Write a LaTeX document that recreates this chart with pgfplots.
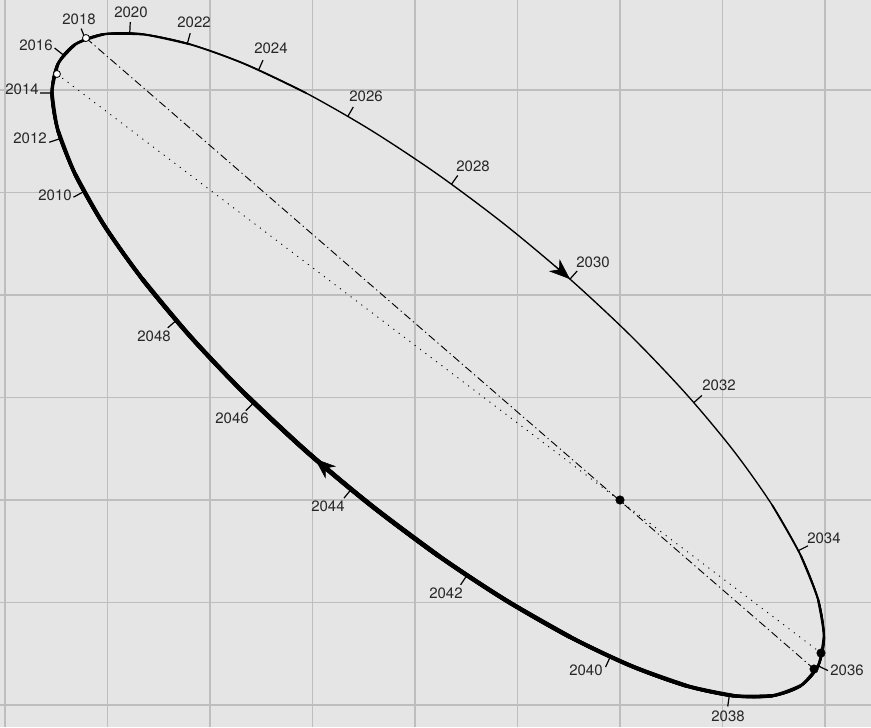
\documentclass[border=0pt]{standalone}
\usepackage{fontspec}
\setmainfont{TeX Gyre Heros}
\usepackage{pgfplots}
\usepackage{pgfplotstable}
\pgfplotsset{compat=1.18}
\usetikzlibrary{arrows.meta}

\definecolor{bggray}{RGB}{229,229,229}
\definecolor{gridgray}{RGB}{190,190,190}
\definecolor{labelgray}{RGB}{40,40,40}

% projected orbit, sampled every 10 degrees of the eccentric angle t
\pgfplotstableread{
t X Y
-40 1.109 0.479
-30 1.486 -0.052
-20 1.763 -0.541
-10 1.933 -0.973
0 1.990 -1.336
10 1.933 -1.618
20 1.763 -1.812
30 1.486 -1.910
40 1.109 -1.910
50 0.645 -1.812
60 0.107 -1.618
70 -0.488 -1.336
80 -1.122 -0.973
90 -1.776 -0.541
100 -2.429 -0.052
110 -3.064 0.479
120 -3.659 1.035
130 -4.196 1.600
140 -4.660 2.155
150 -5.037 2.686
160 -5.314 3.175
170 -5.484 3.607
180 -5.542 3.971
190 -5.484 4.253
200 -5.314 4.446
210 -5.037 4.544
220 -4.660 4.544
230 -4.196 4.446
240 -3.659 4.253
250 -3.064 3.971
260 -2.429 3.607
270 -1.776 3.175
280 -1.122 2.686
290 -0.488 2.155
300 0.107 1.600
310 0.645 1.035
320 1.109 0.479
330 1.486 -0.052
340 1.763 -0.541
350 1.933 -0.973
360 1.990 -1.336
370 1.933 -1.618
380 1.763 -1.812
}\orbit

% year labels
\pgfplotstableread{
X Y year
-5.512 2.976 2010
-5.756 3.532 2012
-5.834 4.010 2014
-5.698 4.439 2016
-5.278 4.693 2018
-4.771 4.761 2020
-4.156 4.663 2022
-3.405 4.410 2024
-2.478 3.941 2026
-1.434 3.259 2028
-0.263 2.322 2030
0.966 1.122 2032
1.990 -0.371 2034
2.215 -1.659 2036
1.054 -2.107 2038
-0.332 -1.659 2040
-1.698 -0.907 2042
-2.849 -0.059 2044
-3.785 0.800 2046
-4.546 1.600 2048
}\years

\pgfplotsset{
  orbitseg/.style 2 args={black, line width=#1, smooth, line cap=round,
    restrict expr to domain={\thisrow{t}}{#2}},
}

\begin{document}
\begin{tikzpicture}
\begin{axis}[
    scale only axis,
    width=871pt, height=727pt,
    xmin=-6.0488, xmax=2.4488,
    ymin=-2.2146, ymax=4.8780,
    xtick={-6,...,2}, ytick={-2,...,4},
    xticklabels={}, yticklabels={},
    major tick length=0pt,
    axis line style={draw=none},
    grid=major,
    grid style={color=gridgray, line width=1.4pt},
    axis background/.style={fill=bggray},
    unbounded coords=jump,
  ]
  % apsides and nodes
  \addplot[black, line width=0.9pt, dash pattern=on 1.1pt off 5.6pt]
    coordinates {(-5.493,4.156) (1.961,-1.493)};
  \addplot[black, line width=0.9pt, dash pattern=on 8pt off 3.5pt on 1.2pt off 3.5pt]
    coordinates {(-5.210,4.507) (1.893,-1.649)};

  % orbit, thicker where it is nearer
  \addplot[orbitseg={1.35pt}{-10:370}] table[x=X, y=Y] {\orbit};
  \addplot[orbitseg={1.7pt}{-30:250}] table[x=X, y=Y] {\orbit};
  \addplot[orbitseg={2.0pt}{-20:230}] table[x=X, y=Y] {\orbit};
  \addplot[orbitseg={2.3pt}{-10:220}] table[x=X, y=Y] {\orbit};
  \addplot[orbitseg={2.6pt}{0:210}] table[x=X, y=Y] {\orbit};
  \addplot[orbitseg={2.9pt}{10:200}] table[x=X, y=Y] {\orbit};
  \addplot[orbitseg={3.2pt}{20:190}] table[x=X, y=Y] {\orbit};
  \addplot[orbitseg={3.5pt}{30:180}] table[x=X, y=Y] {\orbit};
  \addplot[orbitseg={3.8pt}{40:170}] table[x=X, y=Y] {\orbit};
  \addplot[orbitseg={4.1pt}{50:160}] table[x=X, y=Y] {\orbit};
  \addplot[orbitseg={4.4pt}{70:140}] table[x=X, y=Y] {\orbit};
  \addplot[orbitseg={4.65pt}{90:120}] table[x=X, y=Y] {\orbit};

  % year ticks
  \addplot[black, line width=1.2pt] coordinates {
    (-5.229,3.010) (-5.332,2.954) (nan,nan)
    (-5.459,3.526) (-5.569,3.490) (nan,nan)
    (-5.542,3.971) (-5.657,3.971) (nan,nan)
    (-5.430,4.341) (-5.516,4.409) (nan,nan)
    (-5.216,4.497) (-5.257,4.599) (nan,nan)
    (-4.783,4.554) (-4.778,4.662) (nan,nan)
    (-4.221,4.453) (-4.193,4.554) (nan,nan)
    (-3.526,4.195) (-3.483,4.291) (nan,nan)
    (-2.655,3.743) (-2.602,3.834) (nan,nan)
    (-1.644,3.081) (-1.583,3.166) (nan,nan)
    (-0.488,2.155) (-0.418,2.234) (nan,nan)
    (0.720,0.950) (0.799,1.020) (nan,nan)
    (1.740,-0.494) (1.834,-0.447) (nan,nan)
    (1.933,-1.618) (2.028,-1.664) (nan,nan)
    (1.067,-1.904) (1.051,-2.014) (nan,nan)
    (-0.095,-1.529) (-0.141,-1.630) (nan,nan)
    (-1.493,-0.735) (-1.555,-0.827) (nan,nan)
    (-2.623,0.104) (-2.693,0.018) (nan,nan)
    (-3.573,0.950) (-3.650,0.871) (nan,nan)
    (-4.330,1.751) (-4.413,1.679)
  };

  % direction arrows
  \addplot[black, line width=0.6pt, -{Stealth[length=21pt, width=16pt, inset=6.5pt]}]
    coordinates {(-0.638,2.288) (-0.488,2.155)};
  \addplot[black, line width=0.6pt, -{Stealth[length=21pt, width=16pt, inset=6.5pt]}]
    coordinates {(-2.826,0.272) (-2.977,0.403)};

  % labels
  \addplot[draw=none, nodes near coords, point meta=explicit symbolic,
    nodes near coords style={anchor=center, inner sep=0pt, text=labelgray,
      font=\fontsize{15}{18}\selectfont}]
    table[x=X, y=Y, meta=year] {\years};

  % points
  \addplot[only marks, mark=*, mark size=4.3pt, black]
    coordinates {(0,0) (1.961,-1.493) (1.893,-1.649)};
  \addplot[only marks, mark=*, mark size=3.5pt,
    mark options={fill=white, draw=black, line width=0.8pt}]
    coordinates {(-5.493,4.156) (-5.210,4.507)};
\end{axis}
\pgfresetboundingbox
\useasboundingbox (current axis.south west) rectangle (current axis.north east);
\end{tikzpicture}
\end{document}
